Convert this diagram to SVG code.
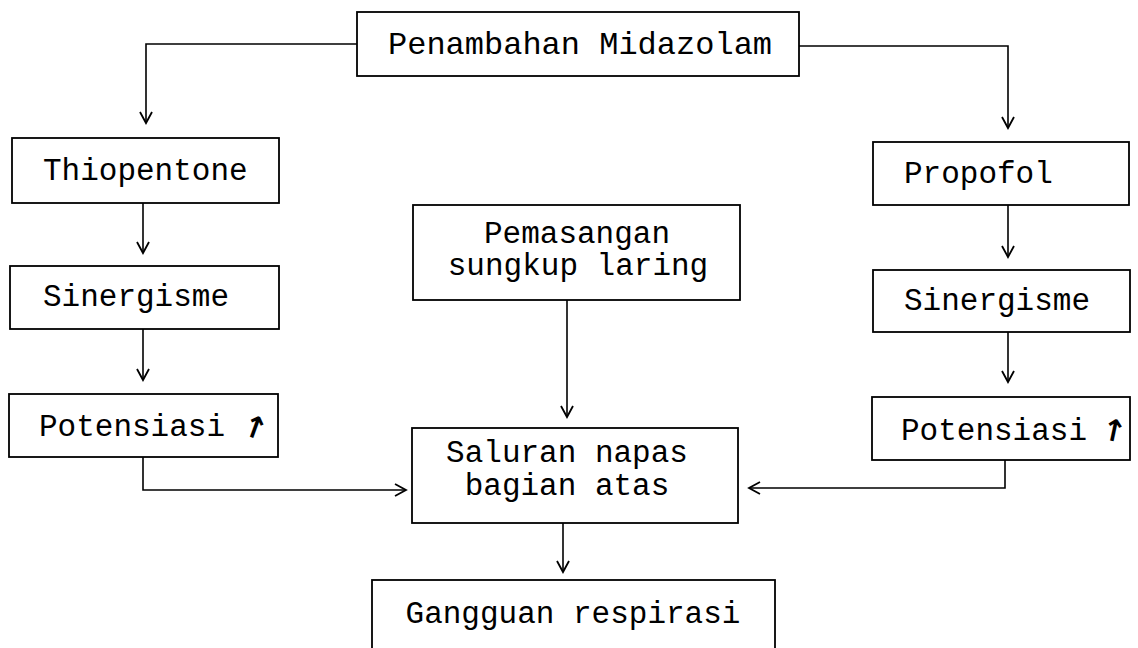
<svg xmlns="http://www.w3.org/2000/svg" width="1138" height="648" viewBox="0 0 1138 648">
<style>
.box{fill:#fff;stroke:#000;stroke-width:1.8}
.t{font-family:"Liberation Mono","DejaVu Sans Mono",monospace;font-size:31px;fill:#000}
.up{font-family:"DejaVu Sans","Liberation Sans",sans-serif;font-size:30px;font-weight:bold;fill:#000}
.c{fill:none;stroke:#000;stroke-width:1.6}
</style>
<defs>
<marker id="v" markerWidth="14" markerHeight="14" refX="12" refY="7" orient="auto-start-reverse" markerUnits="userSpaceOnUse" viewBox="0 0 14 14">
<path d="M1,1 L12,7 L1,13" fill="none" stroke="#000" stroke-width="1.8"/>
</marker>
</defs>
<rect width="1138" height="648" fill="#fff"/>
<g id="connectors">
<path class="c" d="M357,44 H146 V123" marker-end="url(#v)"/>
<path class="c" d="M799,46 H1008 V128" marker-end="url(#v)"/>
<path class="c" d="M143,203 V253" marker-end="url(#v)"/>
<path class="c" d="M143,329 V380" marker-end="url(#v)"/>
<path class="c" d="M1008,205 V257" marker-end="url(#v)"/>
<path class="c" d="M1008,332 V382" marker-end="url(#v)"/>
<path class="c" d="M567,300 V417" marker-end="url(#v)"/>
<path class="c" d="M143,457 V490 H406" marker-end="url(#v)"/>
<path class="c" d="M1005,460 V488 H749" marker-end="url(#v)"/>
<path class="c" d="M563,523 V572" marker-end="url(#v)"/>
</g>
<g id="n-midazolam">
<rect class="box" x="357" y="12" width="442" height="64"/>
<text class="t" x="580" y="54" text-anchor="middle" style="font-size:32px">Penambahan Midazolam</text>
</g>
<g id="n-thiopentone">
<rect class="box" x="12" y="138" width="267" height="65"/>
<text class="t" x="43" y="180">Thiopentone</text>
</g>
<g id="n-sinergisme-l">
<rect class="box" x="10" y="266" width="269" height="63"/>
<text class="t" x="43" y="306">Sinergisme</text>
</g>
<g id="n-potensiasi-l">
<rect class="box" x="9" y="394" width="269" height="63"/>
<text class="t" x="39" y="436">Potensiasi</text>
<text class="up" x="255" y="438" text-anchor="middle" transform="rotate(20 255 428)">↑</text>
</g>
<g id="n-propofol">
<rect class="box" x="873" y="142" width="256" height="63"/>
<text class="t" x="904" y="183">Propofol</text>
</g>
<g id="n-sinergisme-r">
<rect class="box" x="873" y="270" width="257" height="62"/>
<text class="t" x="904" y="310">Sinergisme</text>
</g>
<g id="n-potensiasi-r">
<rect class="box" x="872" y="397" width="258" height="63"/>
<text class="t" x="901" y="440">Potensiasi</text>
<text class="up" x="1114" y="441" text-anchor="middle" transform="rotate(12 1114 431)">↑</text>
</g>
<g id="n-pemasangan">
<rect class="box" x="413" y="205" width="327" height="95"/>
<text class="t" x="577" y="243" text-anchor="middle">Pemasangan</text>
<text class="t" x="578" y="275" text-anchor="middle">sungkup laring</text>
</g>
<g id="n-saluran">
<rect class="box" x="412" y="428" width="326" height="95"/>
<text class="t" x="567" y="462" text-anchor="middle">Saluran napas</text>
<text class="t" x="567" y="495" text-anchor="middle">bagian atas</text>
</g>
<g id="n-gangguan">
<rect class="box" x="372" y="580" width="403" height="80"/>
<text class="t" x="573" y="623" text-anchor="middle">Gangguan respirasi</text>
</g>
</svg>
